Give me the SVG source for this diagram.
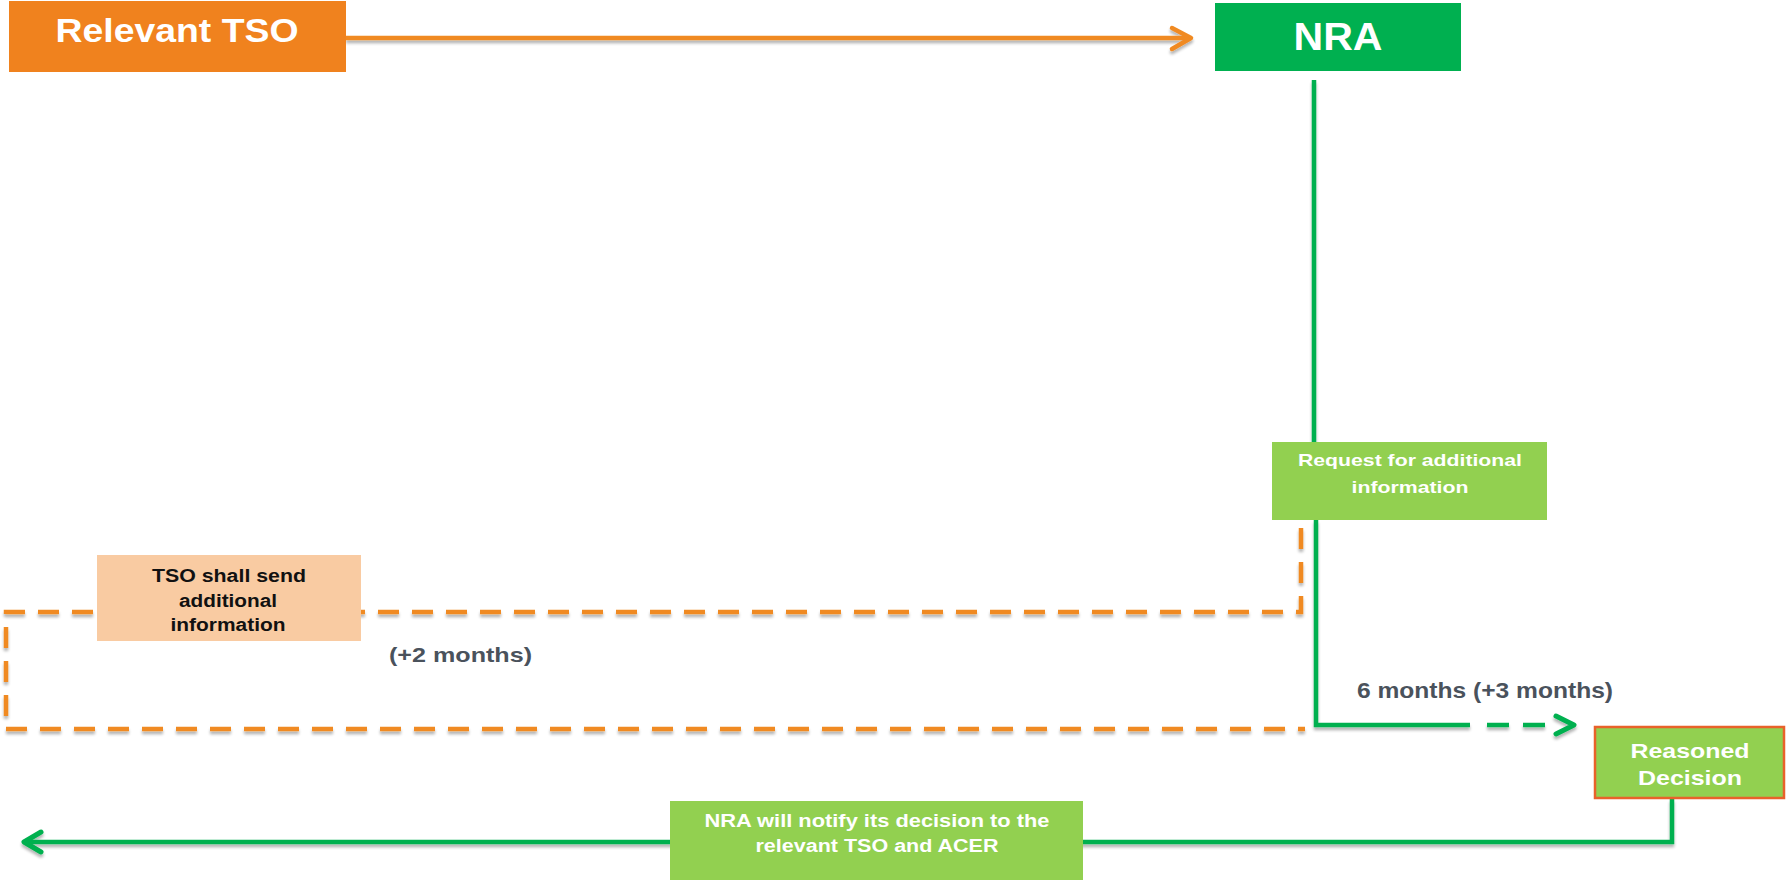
<svg xmlns="http://www.w3.org/2000/svg" width="1787" height="881" viewBox="0 0 1787 881">
  <style>
    .lbl { font-family: "Liberation Sans", Arial, sans-serif; font-weight: bold; text-anchor: middle; }
    .white { fill: #ffffff; }
    .dark { fill: #111111; }
    .note { font-family: "Liberation Sans", Arial, sans-serif; font-weight: bold; fill: #4a525c; }
    .orange-line { fill: none; stroke: #F08A24; stroke-width: 4.5; }
    .green-line { fill: none; stroke: #00B050; stroke-width: 4.5; }
    .dashed-o { stroke-dasharray: 21 13; }
    .dashed-g { stroke-dasharray: 22 14; }
  </style>
  <defs>
    <filter id="shadow" x="-5%" y="-50%" width="110%" height="300%">
      <feGaussianBlur in="SourceAlpha" stdDeviation="1.5"/>
      <feOffset dx="0" dy="3" result="b"/>
      <feComponentTransfer><feFuncA type="linear" slope="0.3"/></feComponentTransfer>
      <feMerge><feMergeNode/><feMergeNode in="SourceGraphic"/></feMerge>
    </filter>
  </defs>

  <rect width="1787" height="881" fill="#ffffff"/>

  <!-- connectors -->
  <g id="connectors" filter="url(#shadow)">
    <!-- TSO submits to NRA -->
    <path class="orange-line" d="M346 38 H1190"/>
    <path d="M1172 28 L1191 38 L1172 49" fill="none" stroke="#F08A24" stroke-width="4.5" stroke-linejoin="round" stroke-linecap="round"/>
    <!-- NRA down to request -->
    <path class="green-line" d="M1314 80 V442"/>
    <!-- request back to TSO loop (dashed) -->
    <path class="orange-line dashed-o" d="M1301 528 V612 H6 V729 H1305"/>
    <!-- request to reasoned decision -->
    <path class="green-line" d="M1316 520 V725 H1470"/>
    <path class="green-line dashed-g" d="M1487 725 H1545"/>
    <path d="M1556 716 L1574 725 L1556 734" fill="none" stroke="#00B050" stroke-width="5" stroke-linejoin="round" stroke-linecap="round"/>
    <!-- decision notification back -->
    <path class="green-line" d="M1672 799 V842 H25"/>
    <path d="M41 832 L24 842 L41 852" fill="none" stroke="#00B050" stroke-width="5" stroke-linejoin="round" stroke-linecap="round"/>
  </g>

  <!-- nodes -->
  <g id="relevant-tso">
    <rect x="9" y="1" width="337" height="71" fill="#F0821E"/>
    <text class="lbl white" x="177" y="42" font-size="33" textLength="243" lengthAdjust="spacingAndGlyphs">Relevant TSO</text>
  </g>

  <g id="nra">
    <rect x="1215" y="3" width="246" height="68" fill="#00B050"/>
    <text class="lbl white" x="1338" y="50" font-size="38" textLength="89" lengthAdjust="spacingAndGlyphs">NRA</text>
  </g>

  <g id="request-info">
    <rect x="1272" y="442" width="275" height="78" fill="#92D050"/>
    <text class="lbl white" x="1410" y="466" font-size="17" textLength="224" lengthAdjust="spacingAndGlyphs">Request for additional</text>
    <text class="lbl white" x="1410" y="493" font-size="17" textLength="117" lengthAdjust="spacingAndGlyphs">information</text>
  </g>

  <g id="tso-send">
    <rect x="97" y="555" width="264" height="86" fill="#F9CBA2"/>
    <text class="lbl dark" x="229" y="582" font-size="18" textLength="154" lengthAdjust="spacingAndGlyphs">TSO shall  send</text>
    <text class="lbl dark" x="228" y="607" font-size="18" textLength="98" lengthAdjust="spacingAndGlyphs">additional</text>
    <text class="lbl dark" x="228" y="631" font-size="18" textLength="115" lengthAdjust="spacingAndGlyphs">information</text>
  </g>

  <g id="reasoned-decision">
    <rect x="1595" y="727" width="189" height="71" fill="#92D050" stroke="#E8622A" stroke-width="2.5"/>
    <text class="lbl white" x="1690" y="758" font-size="21" textLength="119" lengthAdjust="spacingAndGlyphs">Reasoned</text>
    <text class="lbl white" x="1690" y="785" font-size="21" textLength="104" lengthAdjust="spacingAndGlyphs">Decision</text>
  </g>

  <g id="notify">
    <rect x="670" y="801" width="413" height="79" fill="#92D050"/>
    <text class="lbl white" x="877" y="827" font-size="18" textLength="345" lengthAdjust="spacingAndGlyphs">NRA will notify its decision  to the</text>
    <text class="lbl white" x="877" y="852" font-size="18" textLength="243" lengthAdjust="spacingAndGlyphs">relevant TSO and ACER</text>
  </g>

  <!-- timing notes -->
  <g id="notes">
    <text class="note" x="389" y="662" font-size="21" textLength="143" lengthAdjust="spacingAndGlyphs">(+2 months)</text>
    <text class="note" x="1357" y="698" font-size="22" textLength="256" lengthAdjust="spacingAndGlyphs">6 months (+3 months)</text>
  </g>
</svg>
